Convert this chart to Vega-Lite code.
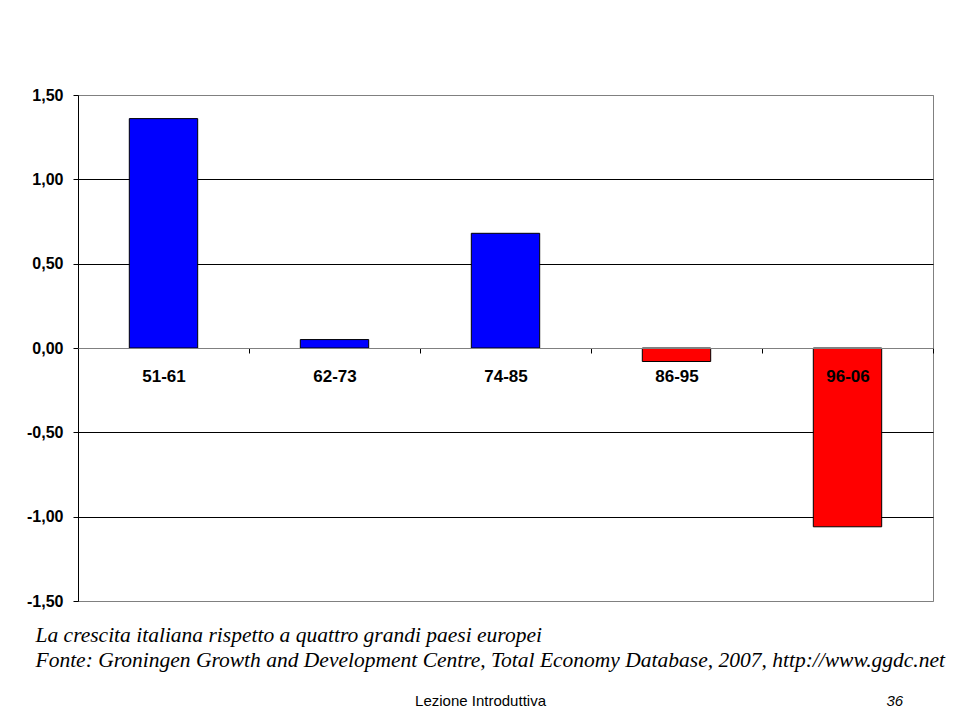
{
  "$schema": "https://vega.github.io/schema/vega-lite/v6.json",
  "width": 855,
  "height": 506,
  "autosize": {"type": "none"},
  "padding": {"left": 78, "top": 95, "right": 22, "bottom": 119},
  "background": "white",
  "config": {
    "locale": {"number": {"decimal": ",", "thousands": ".", "grouping": [3], "currency": ["€", ""], "minus": "-"}},
    "view": {"stroke": "#808080", "strokeWidth": 1},
    "font": "Liberation Sans"
  },
  "data": {
    "values": [
      {"periodo": "51-61", "valore": 1.36},
      {"periodo": "62-73", "valore": 0.05},
      {"periodo": "74-85", "valore": 0.68},
      {"periodo": "86-95", "valore": -0.08},
      {"periodo": "96-06", "valore": -1.06}
    ]
  },
  "layer": [
    {
      "mark": {"type": "bar", "stroke": "#000000", "strokeWidth": 1, "width": {"band": 0.4}},
      "encoding": {
        "x": {
          "field": "periodo",
          "type": "nominal",
          "sort": null,
          "scale": {"paddingInner": 0, "paddingOuter": 0},
          "axis": {
            "orient": "bottom",
            "offset": -253,
            "labelAngle": 0,
            "labelFont": "Liberation Sans",
            "labelFontSize": 17,
            "labelFontWeight": "bold",
            "labelColor": "#000000",
            "labelPadding": 15,
            "tickBand": "extent",
            "tickSize": 5,
            "tickColor": "#000000",
            "domainColor": "#808080",
            "zindex": 1,
            "title": "Lezione Introduttiva",
            "titleFont": "Liberation Sans",
            "titleFontSize": 15,
            "titleFontWeight": "normal",
            "titleColor": "#000000",
            "titleX": 402,
            "titleY": 357,
            "titleAlign": "center",
            "titleBaseline": "alphabetic"
          }
        },
        "y": {
          "field": "valore",
          "type": "quantitative",
          "scale": {"domain": [-1.5, 1.5], "nice": false, "zero": false},
          "axis": {
            "values": [-1.5, -1, -0.5, 0, 0.5, 1, 1.5],
            "format": ".2f",
            "labelFont": "Liberation Sans",
            "labelFontSize": 16,
            "labelFontWeight": "bold",
            "labelColor": "#000000",
            "labelPadding": 10,
            "tickSize": 5,
            "tickColor": "#000000",
            "domainColor": "#000000",
            "grid": true,
            "gridColor": {"condition": {"test": "abs(datum.value) == 1.5 || datum.value == 0", "value": "#808080"}, "value": "#000000"},
            "gridOpacity": 1,
            "title": "36",
            "titleAngle": 0,
            "titleFont": "Liberation Sans",
            "titleFontStyle": "italic",
            "titleFontWeight": "normal",
            "titleFontSize": 15,
            "titleColor": "#000000",
            "titleX": 808,
            "titleY": 610,
            "titleAlign": "left",
            "titleBaseline": "alphabetic"
          }
        },
        "color": {"condition": {"test": "datum.valore < 0", "value": "#ff0000"}, "value": "#0000ff"}
      }
    },
    {
      "mark": {"type": "rule", "strokeOpacity": 0},
      "encoding": {
        "x": {
          "field": "periodo",
          "type": "nominal",
          "sort": null,
          "axis": {
            "orient": "bottom",
            "domain": false,
            "ticks": false,
            "labels": false,
            "grid": false,
            "title": ["La crescita italiana rispetto a quattro grandi paesi europei", "Fonte: Groningen Growth and Development Centre, Total Economy Database, 2007, http://www.ggdc.net"],
            "titleFont": "Liberation Serif",
            "titleFontStyle": "italic",
            "titleFontWeight": "normal",
            "titleFontSize": 21.5,
            "titleColor": "#000000",
            "titleX": -43,
            "titleY": 40,
            "titleAlign": "left",
            "titleBaseline": "alphabetic",
            "titleLineHeight": 25,
            "titleLimit": 1000
          }
        }
      }
    }
  ],
  "resolve": {"axis": {"x": "independent"}}
}
